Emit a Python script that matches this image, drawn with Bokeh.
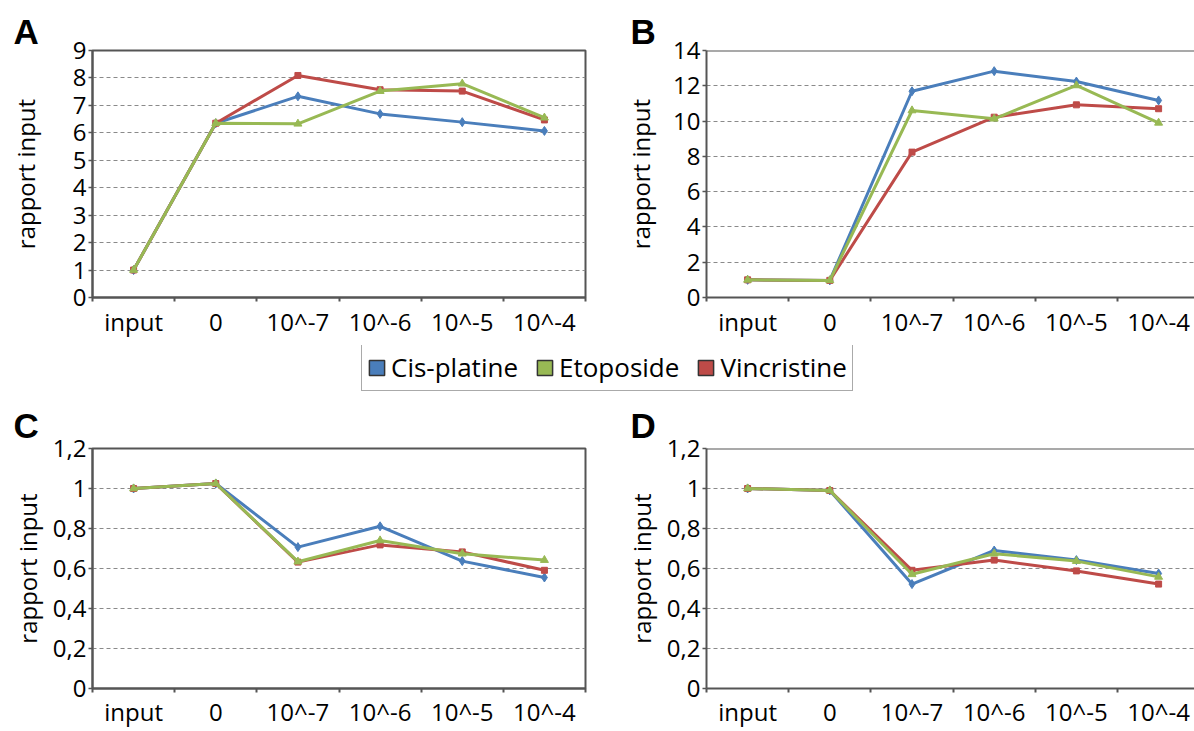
from bokeh.plotting import figure
from bokeh.layouts import column, row
from bokeh.models import Range1d, FixedTicker, Span, Legend, LegendItem, Title
from bokeh.embed import file_html
from bokeh.resources import INLINE

# ---------------- data ----------------
categories = ["input", "0", "10^-7", "10^-6", "10^-5", "10^-4"]
series_names = ["Cis-platine", "Etoposide", "Vincristine"]

a_cis = [1.0, 6.35, 7.33, 6.69, 6.39, 6.07]
a_eto = [1.0, 6.35, 6.33, 7.52, 7.79, 6.55]
a_vin = [1.0, 6.35, 8.09, 7.57, 7.52, 6.47]

b_cis = [1.0, 0.97, 11.69, 12.83, 12.24, 11.17]
b_eto = [1.0, 0.97, 10.60, 10.13, 12.02, 9.90]
b_vin = [1.0, 0.97, 8.24, 10.22, 10.92, 10.70]

c_cis = [1.0, 1.025, 0.707, 0.811, 0.637, 0.555]
c_eto = [1.0, 1.025, 0.634, 0.740, 0.674, 0.642]
c_vin = [1.0, 1.025, 0.632, 0.718, 0.683, 0.591]

d_cis = [1.0, 0.99, 0.522, 0.690, 0.642, 0.575]
d_eto = [1.0, 0.99, 0.571, 0.674, 0.637, 0.558]
d_vin = [1.0, 0.99, 0.591, 0.642, 0.588, 0.522]

yticks_a = [0, 1, 2, 3, 4, 5, 6, 7, 8, 9]
ylabels_a = ["0", "1", "2", "3", "4", "5", "6", "7", "8", "9"]
yticks_b = [0, 2, 4, 6, 8, 10, 12, 14]
ylabels_b = ["0", "2", "4", "6", "8", "10", "12", "14"]
yticks_cd = [0, 0.2, 0.4, 0.6, 0.8, 1.0, 1.2]
ylabels_cd = ["0", "0,2", "0,4", "0,6", "0,8", "1", "1,2"]

y_title = "rapport input"

# ---------------- style ----------------
BLUE = "#4a7ebb"
GREEN = "#98b954"
RED = "#be4b48"
FONT = "Open Sans"
AXIS_COL = "#555555"


def panel(letter, cis, eto, vin, yticks, ylabels, width, height, mb_left, mb_right,
          mb_top, mb_bottom, xend, title_standoff, xlab_standoff, letter_offset,
          letter_standoff, full_outline):
    p = figure(width=width, height=height,
               x_range=Range1d(0, xend),
               y_range=Range1d(yticks[0], yticks[-1]),
               toolbar_location=None, output_backend="svg",
               min_border_left=mb_left, min_border_right=mb_right,
               min_border_top=mb_top, min_border_bottom=mb_bottom)
    p.background_fill_color = "white"
    p.border_fill_color = "white"
    n = len(categories)
    xs = [i + 0.5 for i in range(n)]

    xa = p.xaxis[0]
    xa.ticker = FixedTicker(ticks=xs, minor_ticks=list(range(n + 1)))
    xa.major_label_overrides = {x: c for x, c in zip(xs, categories)}
    xa.major_tick_line_color = None
    xa.major_tick_out = 0
    xa.major_tick_in = 0
    xa.minor_tick_line_color = AXIS_COL
    xa.minor_tick_line_width = 2
    xa.minor_tick_out = 4
    xa.minor_tick_in = 0
    xa.axis_line_color = AXIS_COL
    xa.axis_line_width = 2
    xa.major_label_text_font = FONT
    xa.major_label_text_font_size = "24px"
    xa.major_label_text_color = "black"
    xa.major_label_standoff = xlab_standoff

    ya = p.yaxis[0]
    ya.ticker = FixedTicker(ticks=yticks, minor_ticks=[])
    ya.major_label_overrides = {t: l for t, l in zip(yticks, ylabels)}
    ya.major_tick_line_color = AXIS_COL
    ya.major_tick_line_width = 1.5
    ya.major_tick_out = 4
    ya.major_tick_in = 0
    ya.axis_line_color = AXIS_COL
    ya.axis_line_width = 2
    ya.major_label_text_font = FONT
    ya.major_label_text_font_size = "24px"
    ya.major_label_text_color = "black"
    ya.major_label_standoff = 2
    ya.axis_label = y_title
    ya.axis_label_text_font = FONT
    ya.axis_label_text_font_size = "24px"
    ya.axis_label_text_font_style = "normal"
    ya.axis_label_text_color = "black"
    ya.axis_label_standoff = title_standoff

    p.xgrid.grid_line_color = None
    p.ygrid.grid_line_color = "#8a8a8a"
    p.ygrid.grid_line_dash = "4 3"
    p.ygrid.grid_line_width = 1

    if full_outline:
        p.outline_line_color = AXIS_COL
        p.outline_line_width = 2
    else:
        p.outline_line_color = None
        p.add_layout(Span(location=yticks[-1], dimension="width",
                          line_color=AXIS_COL, line_width=2))

    p.line(xs, cis, line_color=BLUE, line_width=3, line_join="round")
    p.scatter(xs, cis, marker="diamond", size=9, fill_color=BLUE, line_color=BLUE)
    p.line(xs, vin, line_color=RED, line_width=3, line_join="round")
    p.scatter(xs, vin, marker="square", size=6, fill_color=RED, line_color=RED)
    p.line(xs, eto, line_color=GREEN, line_width=3, line_join="round")
    p.scatter(xs, eto, marker="triangle", size=8, fill_color=GREEN, line_color=GREEN)

    p.add_layout(Title(text=letter, align="left", offset=letter_offset,
                       standoff=letter_standoff, vertical_align="bottom",
                       text_font="Liberation Sans", text_font_style="bold",
                       text_font_size="35px", text_color="black"), "above")
    return p


# Row 1 : y 0 -> 345
fa = panel("A", a_cis, a_eto, a_vin, yticks_a, ylabels_a,
           width=620, height=345, mb_left=92, mb_right=35, mb_top=50, mb_bottom=48,
           xend=6, title_standoff=28, xlab_standoff=3, letter_offset=-79,
           letter_standoff=0, full_outline=True)
fb = panel("B", b_cis, b_eto, b_vin, yticks_b, ylabels_b,
           width=574, height=345, mb_left=86, mb_right=0, mb_top=50, mb_bottom=48,
           xend=488 / 82.2, title_standoff=13, xlab_standoff=3, letter_offset=-76,
           letter_standoff=0, full_outline=False)

# Legend strip : y 345 -> 399
lf = figure(width=1194, height=54, toolbar_location=None, output_backend="svg",
            x_range=Range1d(0, 1), y_range=Range1d(0, 1),
            x_axis_type=None, y_axis_type=None, min_border=0)
lf.grid.visible = False
lf.outline_line_color = None
items = []
for name, col in zip(series_names, [BLUE, GREEN, RED]):
    r = lf.quad(left=[5], right=[6], top=[5], bottom=[4], fill_color=col,
                line_color="#333333", line_width=1.5)
    items.append(LegendItem(label=name, renderers=[r]))
leg = Legend(items=items, orientation="horizontal", location=(361, 8),
             glyph_width=19, glyph_height=19, label_standoff=5, spacing=17,
             padding=5, margin=0, border_line_color="#555555", border_line_width=1.5,
             label_text_font=FONT, label_text_font_size="26px",
             label_text_color="black", background_fill_color="white")
lf.add_layout(leg, "center")

# Row 2 : y 399 -> 730
fc = panel("C", c_cis, c_eto, c_vin, yticks_cd, ylabels_cd,
           width=620, height=331, mb_left=92, mb_right=35, mb_top=47, mb_bottom=41,
           xend=6, title_standoff=6, xlab_standoff=2, letter_offset=-79,
           letter_standoff=8, full_outline=True)
fd = panel("D", d_cis, d_eto, d_vin, yticks_cd, ylabels_cd,
           width=574, height=331, mb_left=86, mb_right=0, mb_top=47, mb_bottom=41,
           xend=488 / 82.2, title_standoff=6, xlab_standoff=2, letter_offset=-76,
           letter_standoff=8, full_outline=False)

layout = column(row(fa, fb), lf, row(fc, fd))

open("out.html", "w").write(file_html(layout, INLINE))
